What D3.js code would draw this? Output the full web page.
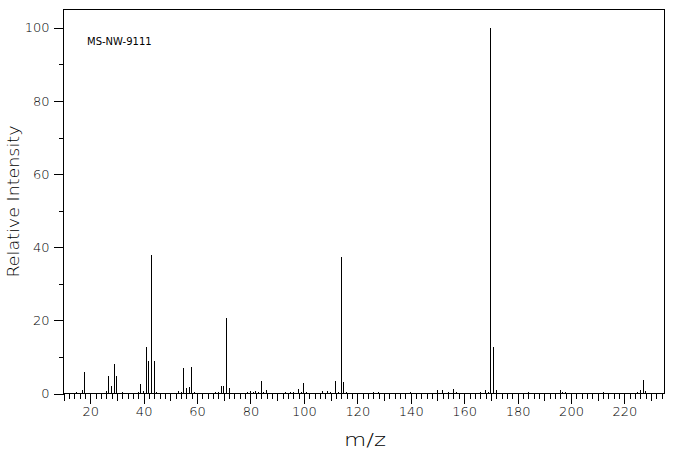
<!DOCTYPE html>
<html>
<head>
<meta charset="utf-8">
<script src="https://cdn.jsdelivr.net/npm/d3@7"></script>
<style>
  html, body { margin: 0; padding: 0; background: #fff; }
  svg { display: block; }
  text { font-family: "DejaVu Sans", sans-serif; fill: #000; }
</style>
</head>
<body>
<svg id="chart" width="676" height="455"></svg>
<script>
// m/z values and relative intensities
const mz = [15,17,18,26,27,28,29,30,32,38,39,40,41,42,43,44,45,53,54,55,56,57,58,59,
  67,68,69,70,71,72,79,80,81,82,83,84,85,86,93,95,96,98,99,100,101,107,109,110,
  112,113,114,115,116,126,128,140,150,152,154,156,157,166,168,169,170,171,172,
  184,196,197,198,212,225,226,227,228];
const intensity = [0.4,0.9,5.8,0.6,4.7,2.0,8.0,4.7,0.4,0.4,2.6,0.6,12.7,8.9,38.0,8.9,0.4,0.6,0.4,6.9,1.5,1.8,7.2,0.4,
  0.4,0.4,2.0,2.0,20.6,1.5,0.4,0.6,0.4,0.6,0.4,3.4,0.4,0.9,0.4,0.4,0.4,1.2,0.4,2.8,0.4,0.6,0.6,0.4,
  3.4,0.4,37.2,3.1,0.4,0.4,0.4,0.4,0.9,0.9,0.4,1.2,0.4,0.4,0.9,0.4,100,12.7,0.9,
  0.4,0.9,0.4,0.4,0.4,0.4,0.9,3.7,0.6];
const xTickLabels = [20,40,60,80,100,120,140,160,180,200,220];
const yTickLabels = [0,20,40,60,80,100];
const yMinorTicks = [10,30,50,70,90];
const xDomain = [10, 235];
const yDomain = [0, 105];
const sampleName = "MS-NW-9111";
const xTitle = "m/z";
const yTitle = "Relative Intensity";

(function () {
const svg = d3.select("#chart");
const pl = 63.5, pr = 664.5, pt = 9.5, pb = 393.5;

const x = d3.scaleLinear().domain(xDomain).range([pl, pr]);
const y = d3.scaleLinear().domain(yDomain).range([pb, pt]);

const snap = v => Math.round(v - 0.5) + 0.5;

// x-axis: minor (every 2), medium (every 10), major (every 20, labelled)
const xMinor = d3.range(10, 235, 2).filter(v => v % 10 !== 0);
const xMed = d3.range(10, 235, 10).filter(v => v % 20 !== 0);

function styleAxis(g) {
  g.select(".domain").remove();
  g.selectAll("line").attr("stroke", "#000").attr("shape-rendering", "crispEdges");
  g.selectAll("text").attr("font-family", "DejaVu Sans").attr("font-weight", 200)
    .attr("font-size", 13).attr("fill", "#000");
}

svg.append("g").attr("transform", `translate(0,${pb})`)
  .call(d3.axisBottom(x).tickValues(xMinor).tickSize(5).tickFormat(""))
  .call(styleAxis);
svg.append("g").attr("transform", `translate(0,${pb})`)
  .call(d3.axisBottom(x).tickValues(xMed).tickSize(7).tickFormat(""))
  .call(styleAxis);
svg.append("g").attr("transform", `translate(0,${pb})`)
  .call(d3.axisBottom(x).tickValues(xTickLabels).tickSize(10).tickPadding(3).tickFormat(d3.format("d")))
  .call(styleAxis);

// y-axis
svg.append("g").attr("transform", `translate(${pl},0)`)
  .call(d3.axisLeft(y).tickValues(yMinorTicks).tickSize(5).tickFormat(""))
  .call(styleAxis);
svg.append("g").attr("transform", `translate(${pl},0)`)
  .call(d3.axisLeft(y).tickValues(yTickLabels).tickSize(10).tickPadding(4).tickFormat(d3.format("d")))
  .call(styleAxis);

// frame
svg.append("rect")
  .attr("x", pl).attr("y", pt)
  .attr("width", pr - pl).attr("height", pb - pt)
  .attr("fill", "none").attr("stroke", "#000").attr("stroke-width", 1)
  .attr("shape-rendering", "crispEdges");

// peaks
const peaks = mz.map((m, i) => ({ m, v: intensity[i] }));
svg.append("g").selectAll("line").data(peaks).join("line")
  .attr("x1", d => snap(x(d.m))).attr("x2", d => snap(x(d.m)))
  .attr("y1", y(0)).attr("y2", d => y(d.v))
  .attr("stroke", "#000").attr("stroke-width", 1)
  .attr("shape-rendering", "crispEdges");

// sample label
svg.append("text")
  .attr("x", 87).attr("y", 45)
  .attr("font-family", "DejaVu Sans Mono").attr("font-size", 10)
  .text(sampleName);

// axis titles
svg.append("text")
  .attr("x", (pl + pr) / 2 + 1).attr("y", 446)
  .attr("text-anchor", "middle")
  .attr("font-weight", 200)
  .attr("font-size", 18)
  .attr("textLength", 42).attr("lengthAdjust", "spacingAndGlyphs")
  .text(xTitle);

svg.append("text")
  .attr("transform", `translate(19,${(pt + pb) / 2}) rotate(-90)`)
  .attr("text-anchor", "middle")
  .attr("font-weight", 200)
  .attr("font-size", 15)
  .attr("textLength", 152).attr("lengthAdjust", "spacingAndGlyphs")
  .text(yTitle);
})();
</script>
</body>
</html>
